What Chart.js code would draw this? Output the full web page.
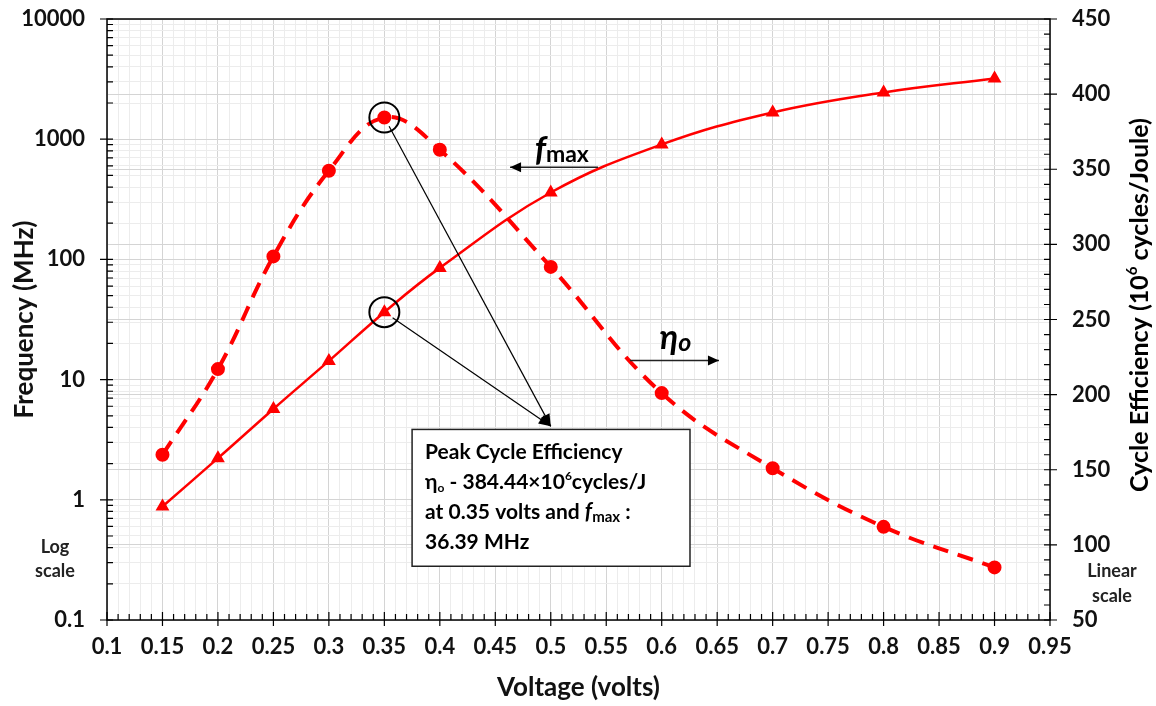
<!DOCTYPE html>
<html>
<head>
<meta charset="utf-8">
<script src="https://cdn.jsdelivr.net/npm/chart.js@4.4.0/dist/chart.umd.min.js"></script>
<style>
html, body { margin: 0; padding: 0; background: #fff; }
</style>
</head>
<body>
<canvas id="chart" width="1156" height="706"></canvas>
<script>
// data
const voltages = [0.15, 0.2, 0.25, 0.3, 0.35, 0.4, 0.5, 0.6, 0.7, 0.8, 0.9];
const frequencyMHz = [0.88, 2.22, 5.7, 14.3, 36.39, 85, 360, 905, 1670, 2450, 3200];
const cycleEfficiency = [160, 217, 292, 349, 384.44, 363, 285, 201, 151, 112, 85];
const freqDecades = [0.1, 1, 10, 100, 1000, 10000];
const effMin = 50, effMax = 450, effStep = 50, effMinor = 10;
const voltMin = 0.1, voltMax = 0.95, voltMajor = 0.05, voltMinor = 0.01;

const FONT = 'Lato, "Open Sans", sans-serif';
const RED = '#ff0000';

function fmt(v) {
    return String(Math.round(v * 1000) / 1000);
}

function isVoltMajor(v) {
    return Math.round(v * 100) % Math.round(voltMajor * 100) === 0;
}

function isDecade(v) {
    return freqDecades.some(d => Math.abs(d - v) < d * 1e-6);
}

// draws a list of text runs ({t, font, dy}) one after the other
function drawRuns(ctx, runs, x, y, align) {
    let total = 0;
    runs.forEach(r => { ctx.font = r.font; total += ctx.measureText(r.t).width; });
    let cx = align === 'center' ? x - total / 2 : x;
    ctx.textAlign = 'left';
    runs.forEach(r => {
        ctx.font = r.font;
        ctx.fillText(r.t, cx, y + (r.dy || 0));
        cx += ctx.measureText(r.t).width;
    });
}

function arrow(ctx, x1, y1, x2, y2, head, width, lw) {
    ctx.beginPath();
    ctx.lineWidth = lw;
    ctx.moveTo(x1, y1);
    ctx.lineTo(x2, y2);
    ctx.stroke();
    const a = Math.atan2(y2 - y1, x2 - x1);
    ctx.beginPath();
    ctx.moveTo(x2, y2);
    ctx.lineTo(x2 - head * Math.cos(a) + width * Math.sin(a), y2 - head * Math.sin(a) - width * Math.cos(a));
    ctx.lineTo(x2 - head * Math.cos(a) - width * Math.sin(a), y2 - head * Math.sin(a) + width * Math.cos(a));
    ctx.closePath();
    ctx.fill();
}

const axesAndNotes = {
    id: 'axesAndNotes',
    afterDraw(chart) {
        const ctx = chart.ctx;
        const area = chart.chartArea;
        const sx = chart.scales.x, yl = chart.scales.y, yr = chart.scales.y2;
        ctx.save();
        ctx.strokeStyle = '#000';
        ctx.fillStyle = '#000';

        // frame
        ctx.lineWidth = 1.5;
        ctx.strokeRect(area.left, area.top, area.right - area.left, area.bottom - area.top);

        // tick marks
        ctx.lineWidth = 1.2;
        ctx.beginPath();
        sx.ticks.forEach(t => {
            const p = sx.getPixelForValue(t.value);
            if (isVoltMajor(t.value)) { ctx.moveTo(p, area.bottom + 6); ctx.lineTo(p, area.bottom - 8); }
            else { ctx.moveTo(p, area.bottom); ctx.lineTo(p, area.bottom - 6); }
        });
        yl.ticks.forEach(t => {
            const p = yl.getPixelForValue(t.value);
            if (isDecade(t.value)) { ctx.moveTo(area.left - 7, p); ctx.lineTo(area.left + 6, p); }
            else { ctx.moveTo(area.left, p); ctx.lineTo(area.left + 6, p); }
        });
        yr.ticks.forEach(t => {
            const p = yr.getPixelForValue(t.value);
            if (t.value % effStep === 0) { ctx.moveTo(area.right - 6, p); ctx.lineTo(area.right + 7, p); }
            else { ctx.moveTo(area.right, p); ctx.lineTo(area.right - 6, p); }
        });
        ctx.stroke();

        // right axis title, reading bottom to top
        ctx.save();
        ctx.translate(1140, 305);
        ctx.rotate(-Math.PI / 2);
        ctx.textBaseline = 'middle';
        drawRuns(ctx, [
            { t: 'Cycle Efficiency (10', font: 'bold 25px ' + FONT },
            { t: '6', font: 'bold 15px ' + FONT, dy: -8 },
            { t: ' cycles/Joule)', font: 'bold 25px ' + FONT }
        ], 0, 0, 'center');
        ctx.restore();

        // scale notes
        ctx.textBaseline = 'middle';
        ctx.textAlign = 'center';
        ctx.font = 'bold 18px ' + FONT;
        ctx.fillStyle = '#222';
        ctx.fillText('Log', 55, 547);
        ctx.fillText('scale', 55, 571);
        ctx.fillText('Linear', 1112, 571);
        ctx.fillText('scale', 1112, 596);
        ctx.fillStyle = '#000';

        // peak markers
        const px = sx.getPixelForValue(voltages[4]);
        const pf = yl.getPixelForValue(frequencyMHz[4]);
        const pe = yr.getPixelForValue(cycleEfficiency[4]);
        ctx.lineWidth = 2;
        [pf, pe].forEach(py => {
            ctx.beginPath();
            ctx.arc(px, py, 15, 0, Math.PI * 2);
            ctx.stroke();
        });

        // leader lines to the note box
        const tipX = sx.getPixelForValue(0.5), tipY = yl.getPixelForValue(4.1);
        [pf, pe].forEach(py => {
            const a = Math.atan2(tipY - py, tipX - px);
            arrow(ctx, px + 10 * Math.cos(a), py + 10 * Math.sin(a), tipX, tipY, 12, 5, 1.2);
        });

        // note box
        const bx1 = sx.getPixelForValue(0.375), bx2 = sx.getPixelForValue(0.6255);
        const by1 = yl.getPixelForValue(3.85), by2 = yl.getPixelForValue(0.28);
        ctx.fillStyle = '#fff';
        ctx.fillRect(bx1, by1, bx2 - bx1, by2 - by1);
        ctx.fillStyle = '#000';
        ctx.lineWidth = 1.5;
        ctx.strokeStyle = '#222';
        ctx.strokeRect(bx1, by1, bx2 - bx1, by2 - by1);
        ctx.textBaseline = 'alphabetic';
        const tx = bx1 + 13;
        const b = 'bold 21px ' + FONT, bs = 'bold 12px ' + FONT, bi = 'italic bold 22px ' + FONT;
        drawRuns(ctx, [{ t: 'Peak Cycle Efficiency', font: b }], tx, by1 + 30, 'left');
        drawRuns(ctx, [
            { t: 'η', font: b }, { t: 'o', font: bs, dy: 3 },
            { t: ' - 384.44×10', font: b }, { t: '6', font: bs, dy: -9 },
            { t: 'cycles/J', font: b }
        ], tx, by1 + 60, 'left');
        drawRuns(ctx, [
            { t: 'at 0.35 volts and ', font: b }, { t: 'f', font: bi },
            { t: 'max', font: 'bold 15px ' + FONT, dy: 3 }, { t: ' :', font: b }
        ], tx, by1 + 90, 'left');
        drawRuns(ctx, [{ t: '36.39 MHz', font: b }], tx, by1 + 120, 'left');

        // f_max label and arrow
        const fy = yl.getPixelForValue(585);
        arrow(ctx, sx.getPixelForValue(0.5426), fy, sx.getPixelForValue(0.4633), fy, 11, 5, 1.6);
        drawRuns(ctx, [
            { t: 'f', font: 'italic bold 34px ' + FONT },
            { t: 'max', font: 'bold 23px ' + FONT, dy: 1 }
        ], sx.getPixelForValue(0.4855), fy - 6, 'left');

        // eta_o label and arrow
        const ey = yr.getPixelForValue(222.7);
        arrow(ctx, sx.getPixelForValue(0.5714), ey, sx.getPixelForValue(0.6516), ey, 11, 5, 1.6);
        drawRuns(ctx, [
            { t: 'η', font: 'italic bold 34px ' + FONT },
            { t: 'o', font: 'italic bold 25px ' + FONT, dy: 2 }
        ], sx.getPixelForValue(0.598), ey - 12, 'left');

        ctx.restore();
    }
};

// the label gap is made with an invisible tick length, so it does not widen the top padding
const hiddenTicks = { drawTicks: true, tickLength: 22, tickColor: 'rgba(0,0,0,0)', lineWidth: 1 };

document.addEventListener('DOMContentLoaded', function () {
    const ctx = document.getElementById('chart').getContext('2d');
    const chart = new Chart(ctx, {
        type: 'line',
        data: {
            datasets: [{
                label: 'Frequency',
                data: voltages.map((v, i) => ({ x: v, y: frequencyMHz[i] })),
                yAxisID: 'y',
                borderColor: RED,
                backgroundColor: RED,
                borderWidth: 2.5,
                pointStyle: 'triangle',
                pointRadius: 5.5,
                tension: 0.4
            }, {
                label: 'Cycle Efficiency',
                data: voltages.map((v, i) => ({ x: v, y: cycleEfficiency[i] })),
                yAxisID: 'y2',
                borderColor: RED,
                backgroundColor: RED,
                borderWidth: 4,
                borderDash: [16, 10],
                pointStyle: 'circle',
                pointRadius: 5,
                tension: 0.4
            }]
        },
        options: {
            responsive: false,
            animation: false,
            layout: { padding: { top: 19, left: 0, right: 0, bottom: 0 } },
            plugins: {
                legend: { display: false },
                tooltip: { enabled: false }
            },
            scales: {
                x: {
                    type: 'linear',
                    min: voltMin,
                    max: voltMax,
                    afterBuildTicks: s => {
                        const ticks = [];
                        for (let i = Math.round(voltMin * 100); i <= Math.round(voltMax * 100); i += Math.round(voltMinor * 100)) {
                            ticks.push({ value: i / 100 });
                        }
                        s.ticks = ticks;
                    },
                    afterFit: s => { s.height = 86; },
                    ticks: {
                        autoSkip: false,
                        maxRotation: 0,
                        padding: 14,
                        color: '#111',
                        font: { family: FONT, size: 22, weight: 'bold' },
                        callback: v => isVoltMajor(v) ? fmt(v) : ''
                    },
                    grid: {
                        drawTicks: false,
                        color: c => isVoltMajor(c.tick.value) ? '#d4d4d4' : '#ececec',
                        lineWidth: 1
                    },
                    border: { display: false },
                    title: {
                        display: true,
                        text: 'Voltage (volts)',
                        color: '#111',
                        font: { family: FONT, size: 26, weight: 'bold' },
                        padding: { top: 0, bottom: 3 }
                    }
                },
                y: {
                    type: 'logarithmic',
                    position: 'left',
                    min: freqDecades[0],
                    max: freqDecades[freqDecades.length - 1],
                    afterBuildTicks: s => {
                        const ticks = [];
                        freqDecades.forEach((d, i) => {
                            ticks.push({ value: d });
                            if (i < freqDecades.length - 1) {
                                for (let k = 2; k <= 9; k++) ticks.push({ value: d * k });
                            }
                        });
                        s.ticks = ticks;
                    },
                    afterFit: s => { s.width = 107; },
                    ticks: {
                        autoSkip: false,
                        padding: 0,
                        color: '#111',
                        font: { family: FONT, size: 22, weight: 'bold' },
                        callback: v => isDecade(v) ? fmt(v) : ''
                    },
                    grid: Object.assign({}, hiddenTicks, {
                        color: c => isDecade(c.tick.value) ? '#d4d4d4' : '#ececec'
                    }),
                    border: { display: false },
                    title: {
                        display: true,
                        text: 'Frequency (MHz)',
                        color: '#111',
                        font: { family: FONT, size: 26, weight: 'bold' },
                        padding: { top: 9, bottom: 0 }
                    }
                },
                y2: {
                    type: 'linear',
                    position: 'right',
                    min: effMin,
                    max: effMax,
                    afterBuildTicks: s => {
                        const ticks = [];
                        for (let v = effMin; v <= effMax; v += effMinor) ticks.push({ value: v });
                        s.ticks = ticks;
                    },
                    afterFit: s => { s.width = 106; },
                    ticks: {
                        autoSkip: false,
                        padding: 0,
                        color: '#111',
                        font: { family: FONT, size: 22, weight: 'bold' },
                        callback: v => v % effStep === 0 ? String(v) : ''
                    },
                    grid: Object.assign({}, hiddenTicks, {
                        color: c => c.tick.value % effStep === 0 ? '#d4d4d4' : 'rgba(0,0,0,0)'
                    }),
                    border: { display: false }
                }
            }
        },
        plugins: [axesAndNotes]
    });
});
</script>
</body>
</html>
